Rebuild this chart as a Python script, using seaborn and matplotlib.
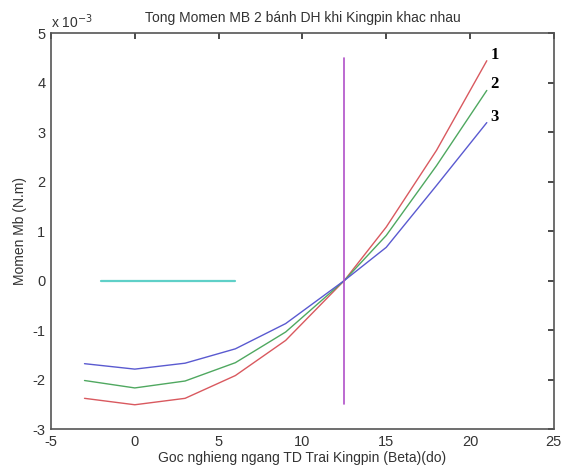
import numpy as np
import matplotlib
matplotlib.use("Agg")
import matplotlib.pyplot as plt
import seaborn as sns
import pandas as pd

# goc nghieng kingpin (do)
beta = [-3, 0, 3, 6, 9, 12.5, 15, 18, 21]
# momen (x 1e-3 N.m)
mb_1 = [-2.38, -2.51, -2.38, -1.92, -1.21, 0.0, 1.08, 2.63, 4.44]
mb_2 = [-2.02, -2.17, -2.03, -1.66, -1.04, 0.0, 0.91, 2.32, 3.84]
mb_3 = [-1.68, -1.79, -1.67, -1.38, -0.87, 0.0, 0.67, 1.92, 3.19]

ref_x = [-2, 6]
ref_y = [0, 0]
vline_x = [12.5, 12.5]
vline_y = [-2.5, 4.5]

sns.set_theme(style="white")
plt.rcParams['font.family'] = ['Liberation Sans', 'DejaVu Sans']
plt.rcParams['axes.unicode_minus'] = False

fig = plt.figure(figsize=(5.64, 4.75), dpi=100)
ax = fig.add_axes([0.0904, 0.0968, 0.8916, 0.8337])

df = pd.DataFrame({
    "beta": beta * 3,
    "mb": mb_1 + mb_2 + mb_3,
    "curve": ["1"] * len(beta) + ["2"] * len(beta) + ["3"] * len(beta),
})
sns.lineplot(data=df, x="beta", y="mb", hue="curve",
             palette=["#d9595f", "#4fa860", "#5a5ad0"], linewidth=1.0,
             legend=False, ax=ax, sort=False)
sns.lineplot(x=ref_x, y=ref_y, color="#5fd0c8", linewidth=1.6, ax=ax)
sns.lineplot(x=vline_x, y=vline_y, color="#b050c8", linewidth=1.2, ax=ax,
             sort=False, orient="y")

for lbl, yv in zip(["1", "2", "3"], [mb_1[-1], mb_2[-1], mb_3[-1]]):
    ax.text(21.2, yv + 0.12, lbl, family="Liberation Serif", fontweight="bold",
            fontsize=12, ha="left", va="center", color="black")

ax.set_xlim(-5, 25)
ax.set_ylim(-3, 5)
ax.set_xticks(range(-5, 26, 5))
ax.set_yticks(range(-3, 6))
ax.tick_params(direction="in", length=4, top=True, right=True,
               labelsize=10.5, colors="#333333", pad=4)
for s in ax.spines.values():
    s.set_color("#555555")
    s.set_linewidth(1.2)

ax.set_xlabel("Goc nghieng ngang TD Trai Kingpin (Beta)(do)", fontsize=10, color="#333333", labelpad=2)
ax.set_ylabel("Momen Mb (N.m)", fontsize=10, color="#333333", labelpad=4)
ax.set_title("Tong Momen MB 2 bánh DH khi Kingpin khac nhau", fontsize=10, color="#333333", pad=8)
ax.text(0.0, 1.005, r"x 10$^{-3}$", transform=ax.transAxes, fontsize=10,
        color="#333333", ha="left", va="bottom")

fig.savefig("out.png", dpi=100)
